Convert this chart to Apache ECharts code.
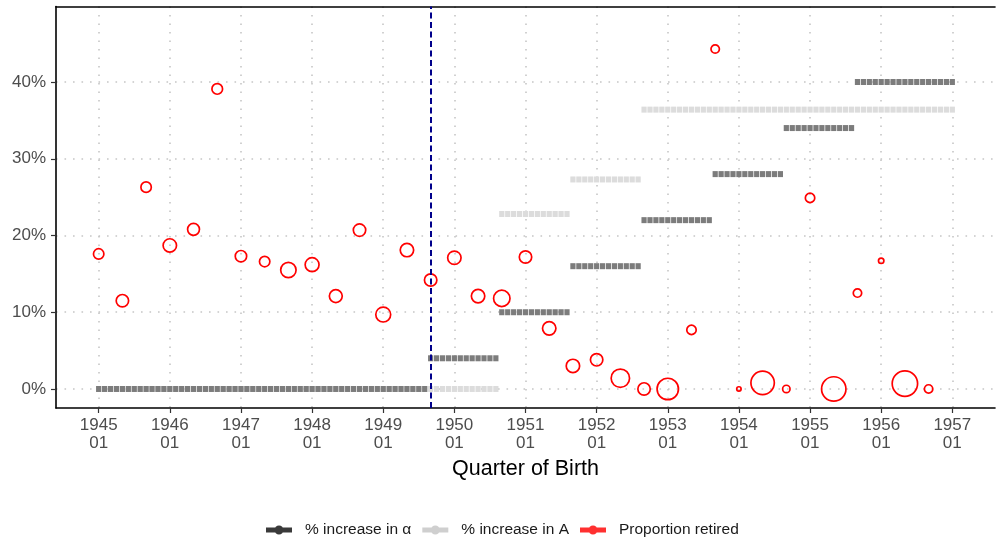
<!DOCTYPE html>
<html>
<head>
<meta charset="utf-8">
<script src="https://cdn.jsdelivr.net/npm/echarts@6/dist/echarts.min.js"></script>
<style>
  html, body { margin: 0; padding: 0; background: #fff; }
  #chart { width: 997px; height: 540px; }
</style>
</head>
<body>
<div id="chart"></div>
<script>
// Birth cohorts (first month of each four-month group) and share already retired, in %
const cohorts = [
  '1945-01', '1945-05', '1945-09', '1946-01', '1946-05', '1946-09',
  '1947-01', '1947-05', '1947-09', '1948-01', '1948-05', '1948-09',
  '1949-01', '1949-05', '1949-09', '1950-01', '1950-05', '1950-09',
  '1951-01', '1951-05', '1951-09', '1952-01', '1952-05', '1952-09',
  '1953-01', '1953-05', '1953-09', '1954-01', '1954-05', '1954-09',
  '1955-01', '1955-05', '1955-09', '1956-01', '1956-05', '1956-09'
];
const retiredPct = [
  17.6, 11.5, 26.3, 18.7, 20.8, 39.1,
  17.3, 16.6, 15.5, 16.2, 12.1, 20.7,
  9.7, 18.1, 14.2, 17.1, 12.1, 11.8,
  17.2, 7.9, 3.0, 3.8, 1.4, 0.0,
  0.0, 7.7, 44.3, 0.0, 0.8, 0.0,
  24.9, 0.0, 12.5, 16.7, 0.7, 0.0
];
// Relative cohort weight (bubble area)
const cohortWeight = [
  144, 196, 144, 225, 182, 150,
  169, 144, 289, 240, 210, 196,
  272, 225, 196, 225, 225, 324,
  196, 225, 225, 196, 400, 196,
  529, 121, 100, 36, 625, 81,
  121, 676, 100, 49, 729, 100
];

// Reform schedules: [first month, last month, % increase]
const alphaSteps = [
  ['1945-01', '1949-08', 0],
  ['1949-09', '1950-08', 4],
  ['1950-09', '1951-08', 10],
  ['1951-09', '1952-08', 16],
  ['1952-09', '1953-08', 22],
  ['1953-09', '1954-08', 28],
  ['1954-09', '1955-08', 34],
  ['1955-09', '1957-01', 40]
];
const aSteps = [
  ['1945-01', '1950-08', 0],
  ['1950-09', '1951-08', 22.8],
  ['1951-09', '1952-08', 27.3],
  ['1952-09', '1957-01', 36.4]
];
const reformStart = '1949-09';

const yearTicks = [1945, 1946, 1947, 1948, 1949, 1950, 1951, 1952, 1953, 1954, 1955, 1956, 1957];
const pctTicks = [0, 10, 20, 30, 40];

const BASE_YEAR = yearTicks[0];
function monthIndex(s) {
  const [y, m] = s.split('-').map(Number);
  return (y - BASE_YEAR) * 12 + (m - 1);
}
// One point per month for each step of a schedule
function expandSteps(steps) {
  const out = [];
  steps.forEach(([from, to, v]) => {
    for (let t = monthIndex(from); t <= monthIndex(to); t++) out.push([t, v]);
  });
  return out;
}

const xTicks = yearTicks.map(y => (y - BASE_YEAR) * 12);
const retiredData = cohorts.map((c, i) => [monthIndex(c), retiredPct[i], cohortWeight[i]]);

const FONT = 'Liberation Sans, Arial, Helvetica, sans-serif';
const gridDots = { color: '#c6c6c6', width: 1.6, type: [1.6, 6.9] };
const legendIcon = 'path://M0,3.5H26V8.5H0Z M17.5,6A4.5,4.5 0 1,1 8.5,6A4.5,4.5 0 1,1 17.5,6Z';

const chart = echarts.init(document.getElementById('chart'), null, { renderer: 'canvas' });
chart.setOption({
  animation: false,
  textStyle: { fontFamily: FONT },
  grid: { left: 56, right: 2, top: 6.5, bottom: 132, containLabel: false },
  xAxis: [{
    type: 'value',
    min: -7.2,
    max: 151.2,
    axisLine: { show: true, onZero: false, lineStyle: { color: '#000', width: 1.6 } },
    axisTick: { show: true, customValues: xTicks, length: 5, lineStyle: { color: '#333', width: 1.2 } },
    axisLabel: {
      customValues: xTicks,
      formatter: v => (BASE_YEAR + v / 12) + '\n01',
      color: '#4d4d4d', fontSize: 17, lineHeight: 18.5, margin: 8, fontFamily: FONT
    },
    splitLine: { show: true, lineStyle: gridDots },
    name: 'Quarter of Birth',
    nameLocation: 'middle',
    nameGap: 47,
    nameTextStyle: { color: '#000', fontSize: 21.5, fontFamily: FONT }
  }, {
    type: 'value',
    position: 'top',
    min: -7.2,
    max: 151.2,
    axisLine: { show: true, onZero: false, lineStyle: { color: '#000', width: 1.6 } },
    axisTick: { show: false },
    axisLabel: { show: false },
    splitLine: { show: false }
  }],
  yAxis: {
    type: 'value',
    min: -2.48,
    max: 49.84,
    axisLine: { show: true, onZero: false, lineStyle: { color: '#000', width: 1.6 } },
    axisTick: { show: true, customValues: pctTicks, length: 5, lineStyle: { color: '#333', width: 1.2 } },
    axisLabel: {
      customValues: pctTicks,
      formatter: v => v + '%',
      color: '#4d4d4d', fontSize: 17, margin: 10, fontFamily: FONT
    },
    splitLine: { show: true, lineStyle: gridDots }
  },
  legend: {
    top: 517,
    left: 261,
    itemWidth: 26,
    itemHeight: 9,
    itemGap: 11,
    textStyle: { fontSize: 15.5, color: '#1a1a1a', fontFamily: FONT, padding: [0, 0, 0, 8] },
    selectedMode: false,
    data: [
      { name: '% increase in \u03b1', icon: legendIcon, itemStyle: { color: '#3a3a3a', borderWidth: 0, opacity: 1 } },
      { name: '% increase in A', icon: legendIcon, itemStyle: { color: '#cfcfcf', borderWidth: 0, opacity: 1 } },
      { name: 'Proportion retired', icon: legendIcon, itemStyle: { color: '#ff3030', borderWidth: 0, opacity: 1 } }
    ]
  },
  series: [
    {
      name: '% increase in A',
      type: 'scatter',
      symbol: 'rect',
      symbolSize: [5.2, 6],
      itemStyle: { color: '#dcdcdc', opacity: 1 },
      data: expandSteps(aSteps),
      z: 2
    },
    {
      name: '% increase in \u03b1',
      type: 'scatter',
      symbol: 'rect',
      symbolSize: [5.2, 6],
      itemStyle: { color: '#7c7c7c', opacity: 1 },
      data: expandSteps(alphaSteps),
      z: 3
    },
    {
      name: 'Proportion retired',
      type: 'scatter',
      symbol: 'circle',
      symbolSize: v => Math.sqrt(v[2]) - 1.6,
      itemStyle: { color: 'rgba(0,0,0,0)', borderColor: '#ff0000', borderWidth: 1.7, opacity: 1 },
      data: retiredData,
      z: 4
    },
    {
      name: 'reform',
      type: 'scatter',
      data: [],
      z: 6,
      markLine: {
        silent: true,
        symbol: 'none',
        label: { show: false },
        lineStyle: { color: '#00008b', width: 2, type: [6, 3.5] },
        data: [{ xAxis: monthIndex(reformStart) }]
      }
    }
  ]
});
</script>
</body>
</html>
